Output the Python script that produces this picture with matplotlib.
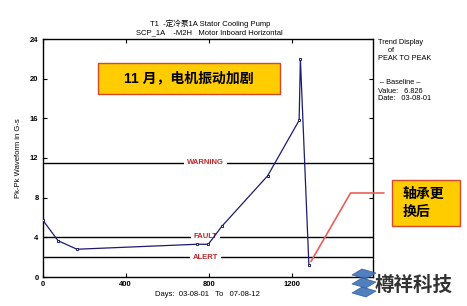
import matplotlib
matplotlib.use("Agg")
import matplotlib.pyplot as plt
from matplotlib.patches import Rectangle, Polygon

plt.rcParams['font.family'] = ['Liberation Sans', 'Noto Sans CJK SC', 'DejaVu Sans']

# trend data
days = [0, 74, 165, 742, 798, 863, 1084, 1236, 1242, 1283]
pk_pk = [5.75, 3.66, 2.8, 3.3, 3.3, 5.1, 10.2, 15.8, 22.0, 1.2]

# alarm levels
levels = [11.5, 4.05, 2.0]
level_names = ["WARNING", "FAULT", "ALERT"]

xticks = [0, 400, 800, 1200]
yticks = [0, 4, 8, 12, 16, 20, 24]

navy = "#1c1c70"
dark_red = "#c0282a"

fig = plt.figure(figsize=(4.67, 3.06), dpi=100)
W, H = 467, 306
ax = fig.add_axes([42.7 / W, 1 - 277 / H, (373 - 42.7) / W, (277 - 39) / H])

# alarm lines with their labels sitting in a gap
for lvl, name in zip(levels, level_names):
    ax.axhline(lvl, color="black", lw=1.0, zorder=1)
    ax.text(785, lvl, name, color=dark_red, fontsize=5.5, fontweight="bold",
            ha="center", va="center", zorder=2,
            bbox=dict(facecolor="white", edgecolor="none", pad=2.0))

ax.plot(days, pk_pk, color=navy, lw=0.9, marker="s", ms=2.0,
        mfc="white", mec=navy, mew=0.7, zorder=3)

ax.set_xlim(0, 1592)
ax.set_ylim(0, 24)
ax.set_xticks(xticks)
ax.set_yticks(yticks)
ax.tick_params(direction="in", length=3, width=0.8, labelsize=5.5,
               top=True, right=True, pad=3)
for lab in ax.get_xticklabels() + ax.get_yticklabels():
    lab.set_fontweight("bold")
for s in ax.spines.values():
    s.set_linewidth(1.0)

ax.set_xlabel("Days:  03-08-01   To   07-08-12", fontsize=5.5, labelpad=2)
ax.set_ylabel("Pk-Pk Waveform in G-s", fontsize=5.5, labelpad=6)

fig.text(210 / W, 1 - 24 / H, "T1  -定冷泵1A Stator Cooling Pump",
         fontsize=5.5, ha="center", va="center")
fig.text(209 / W, 1 - 33 / H, "SCP_1A    -M2H   Motor Inboard Horizontal",
         fontsize=5.5, ha="center", va="center")

side = 378 / W
fig.text(side, 1 - 43 / H, "Trend Display", fontsize=5.3, va="center")
fig.text(side, 1 - 50.5 / H, "     of", fontsize=5.3, va="center")
fig.text(side, 1 - 58 / H, "PEAK TO PEAK", fontsize=5.3, va="center")
fig.text(side, 1 - 83 / H, " – Baseline –", fontsize=5.3, va="center")
fig.text(side, 1 - 91 / H, "Value:   6.826", fontsize=5.3, va="center")
fig.text(side, 1 - 99 / H, "Date:   03-08-01", fontsize=5.3, va="center")

# yellow callout, top
fig.add_artist(Rectangle((98 / W, 1 - 94 / H), 182 / W, 31 / H,
                         transform=fig.transFigure, facecolor="#ffcc00",
                         edgecolor="#d24a2a", lw=1.0))
fig.text(189 / W, 1 - 78.5 / H, "11 月，电机振动加剧", fontsize=10,
         fontweight="bold", ha="center", va="center")

# yellow callout, right
fig.add_artist(Rectangle((392 / W, 1 - 226 / H), 68 / W, 46 / H,
                         transform=fig.transFigure, facecolor="#ffcc00",
                         edgecolor="#d24a2a", lw=1.0))
fig.text(403 / W, 1 - 203 / H, "轴承更\n换后", fontsize=10, fontweight="bold",
         ha="left", va="center", linespacing=1.35)
ax.annotate("", xy=(days[-1], pk_pk[-1]), xycoords="data",
            xytext=(384 / W, 1 - 193 / H), textcoords="figure fraction",
            arrowprops=dict(arrowstyle="-", color="#e8605a", lw=1.2,
                            shrinkA=0, shrinkB=3,
                            connectionstyle="angle,angleA=180,angleB=60,rad=0"),
            annotation_clip=False)

# watermark logo
blue = "#3d72b8"
for dy in (0, 9, 18):
    fig.add_artist(Polygon([(352 / W, 1 - (293 - dy) / H), (366 / W, 1 - (297 - dy) / H),
                            (376 / W, 1 - (291 - dy) / H), (362 / W, 1 - (287 - dy) / H)],
                           closed=True, transform=fig.transFigure,
                           facecolor=blue, edgecolor="#2a5590", lw=0.5, alpha=0.9))
fig.text(375 / W, 1 - 285 / H, "樽祥科技", fontsize=14, fontweight="bold",
         color="#333333", ha="left", va="center")

fig.savefig("out.png", dpi=100)
